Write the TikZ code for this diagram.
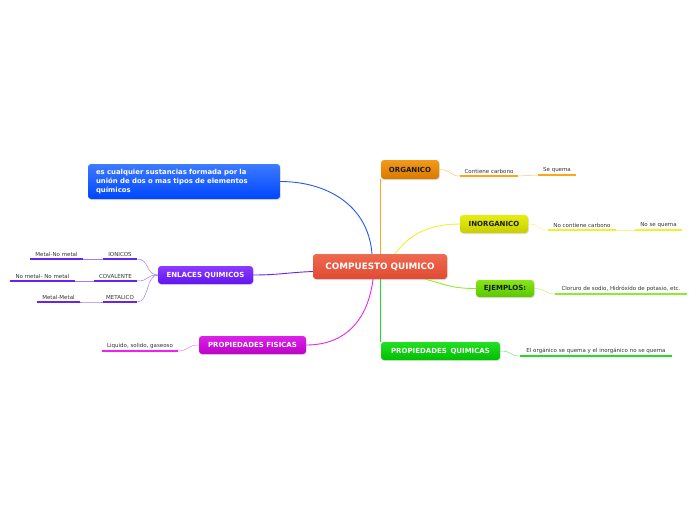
\documentclass[tikz,border=0pt]{standalone}
\usepackage{fontspec}
\setmainfont{DejaVu Sans}
\usepackage{tikz}
\usetikzlibrary{calc,shadows}
\definecolor{cqT}{HTML}{EE6A50}
\definecolor{cqB}{HTML}{E04A32}
\definecolor{orgT}{HTML}{F29A1A}
\definecolor{orgB}{HTML}{D97A00}
\definecolor{inoT}{HTML}{E6EE10}
\definecolor{inoB}{HTML}{C8CE00}
\definecolor{ejT}{HTML}{86E616}
\definecolor{ejB}{HTML}{5CC800}
\definecolor{pqT}{HTML}{22E022}
\definecolor{pqB}{HTML}{00BE00}
\definecolor{dsT}{HTML}{3D7BFF}
\definecolor{dsB}{HTML}{0046FF}
\definecolor{enT}{HTML}{8A3CFF}
\definecolor{enB}{HTML}{6214F0}
\definecolor{pfT}{HTML}{DD22E8}
\definecolor{pfB}{HTML}{BB00C8}
\definecolor{lnB}{HTML}{2456FF}
\definecolor{lnO}{HTML}{FFA41C}
\definecolor{lnY}{HTML}{EEF030}
\definecolor{lnYG}{HTML}{8CEE2A}
\definecolor{lnG}{HTML}{22DD22}
\definecolor{lnP}{HTML}{6624F0}
\definecolor{lnM}{HTML}{EE22EE}
\definecolor{txt}{HTML}{333333}
\definecolor{dark}{HTML}{1A1A1A}
\tikzset{
  topic/.style={rounded corners=3pt, draw=none, inner sep=0pt,
    font=\bfseries\fontsize{7}{8}\selectfont,
    drop shadow={opacity=0.25, shadow xshift=0.8pt, shadow yshift=-1pt}},
  leaf/.style={anchor=south, inner xsep=0pt, inner ysep=2.2pt, text=txt,
    font=\fontsize{5.5}{6.5}\selectfont},
  ul/.style={line width=2.4pt},
  link/.style={line width=0.9pt},
  twig/.style={line width=0.5pt, draw opacity=0.6}
}
\begin{document}
\begin{tikzpicture}[x=1pt,y=-1pt]
  \useasboundingbox (0,0) rectangle (696,520);

  % main topics
  \node[topic, top color=cqT, bottom color=cqB, text=white, minimum width=134pt,
    minimum height=25pt, font=\bfseries\fontsize{8.8}{10}\selectfont] (cq) at (380,266.5) {COMPUESTO QUIMICO};
  \node[topic, top color=orgT, bottom color=orgB, text=dark, minimum width=58pt,
    minimum height=19pt] (org) at (410,169.5) {ORGANICO};
  \node[topic, top color=inoT, bottom color=inoB, text=dark, minimum width=68pt,
    minimum height=18pt] (inorg) at (494,224) {INORGANICO};
  \node[topic, top color=ejT, bottom color=ejB, text=dark, minimum width=58pt,
    minimum height=17pt] (ej) at (505,288.5) {EJEMPLOS:};
  \node[topic, top color=pqT, bottom color=pqB, text=white, minimum width=119pt,
    minimum height=18pt] (pq) at (440.5,351) {PROPIEDADES\, QUIMICAS};
  \node[topic, top color=dsT, bottom color=dsB, text=white, text width=176pt,
    inner xsep=8pt, minimum height=35pt, align=left,
    font=\bfseries\fontsize{6.9}{9}\selectfont] (desc) at (184,181.5)
    {es cualquier sustancias formada por la\\uni\'on de dos o mas tipos de elementos\\qu\'imicos};
  \node[topic, top color=enT, bottom color=enB, text=white, minimum width=95pt,
    minimum height=18pt] (enl) at (205.5,275) {ENLACES QUIMICOS};
  \node[topic, top color=pfT, bottom color=pfB, text=white, minimum width=107pt,
    minimum height=18pt] (pf) at (252.5,345) {PROPIEDADES FISICAS};

  % leaves
  \node[leaf, minimum width=58pt] (contiene) at (489,176) {Contiene carbono};
  \node[leaf, minimum width=38pt] (sequema) at (557,175) {Se quema};
  \node[leaf, minimum width=68pt] (nocont) at (582,230) {No contiene carbono};
  \node[leaf, minimum width=47pt] (nosequema) at (658.5,230) {No se quema};
  \node[leaf, minimum width=132pt] (cloruro) at (621,294) {Cloruro de sodio, Hidr\'oxido de potasio, etc.};
  \node[leaf, minimum width=152pt] (orginorg) at (596,356) {El org\'anico se quema y el inorg\'anico no se quema};
  \node[leaf, minimum width=34pt] (ionicos) at (120,259) {IONICOS};
  \node[leaf, minimum width=53pt] (metalno) at (56.5,259) {Metal-No metal};
  \node[leaf, minimum width=43pt] (covalente) at (115.5,281) {COVALENTE};
  \node[leaf, minimum width=65pt] (nometal) at (42.5,281) {No metal- No metal};
  \node[leaf, minimum width=34pt] (metalico) at (120,302) {METALICO};
  \node[leaf, minimum width=43pt] (metalmetal) at (58.5,302) {Metal-Metal};
  \node[leaf, minimum width=76pt] (liquido) at (140,351) {Liquido, solido, gaseoso};

  % underlines
  \draw[ul, lnO] (contiene.south west) -- (contiene.south east);
  \draw[ul, lnO] (sequema.south west) -- (sequema.south east);
  \draw[ul, lnY] (nocont.south west) -- (nocont.south east);
  \draw[ul, lnY] (nosequema.south west) -- (nosequema.south east);
  \draw[ul, lnYG] (cloruro.south west) -- (cloruro.south east);
  \draw[ul, lnG] (orginorg.south west) -- (orginorg.south east);
  \draw[ul, lnP] (ionicos.south west) -- (ionicos.south east);
  \draw[ul, lnP] (metalno.south west) -- (metalno.south east);
  \draw[ul, lnP] (covalente.south west) -- (covalente.south east);
  \draw[ul, lnP] (nometal.south west) -- (nometal.south east);
  \draw[ul, lnP] (metalico.south west) -- (metalico.south east);
  \draw[ul, lnP] (metalmetal.south west) -- (metalmetal.south east);
  \draw[ul, lnM] (liquido.south west) -- (liquido.south east);

  % links from the centre
  \draw[link, lnB] ([xshift=-8pt]cq.north) .. controls +(-4,-50) and +(45,0) .. (desc.east);
  \draw[link, lnO] (cq.north) -- (cq.north |- org.south);
  \draw[link, lnY] ([xshift=15pt]cq.north) .. controls +(15,-20) and +(-30,0) .. (inorg.west);
  \draw[link, lnYG] ([xshift=-22pt]cq.south east) .. controls +(20,5) and +(-25,0) .. (ej.west);
  \draw[link, lnG] (cq.south) -- (cq.south |- pq.north);
  \draw[link, lnP] ([yshift=-5pt]cq.west) .. controls +(-25,1) and +(25,0) .. (enl.east);
  \draw[link, lnM] ([xshift=-7pt]cq.south) .. controls +(-5,40) and +(40,0) .. (pf.east);

  % links to leaves
  \draw[twig, lnO] (org.east) .. controls +(12,0) and +(-10,0) .. (contiene.south west);
  \draw[twig, lnO] (contiene.south east) .. controls +(10,0) and +(-10,0) .. (sequema.south west);
  \draw[twig, lnY] (inorg.east) .. controls +(12,0) and +(-10,0) .. (nocont.south west);
  \draw[twig, lnY] (nocont.south east) .. controls +(10,0) and +(-10,0) .. (nosequema.south west);
  \draw[twig, lnYG] (ej.east) .. controls +(12,0) and +(-10,0) .. (cloruro.south west);
  \draw[twig, lnG] (pq.east) .. controls +(12,0) and +(-10,0) .. (orginorg.south west);
  \draw[twig, lnP] (enl.west) .. controls +(-12,0) and +(12,0) .. (ionicos.south east);
  \draw[twig, lnP] (enl.west) .. controls +(-12,0) and +(12,0) .. (covalente.south east);
  \draw[twig, lnP] (enl.west) .. controls +(-12,0) and +(12,0) .. (metalico.south east);
  \draw[twig, lnP] (ionicos.south west) .. controls +(-10,0) and +(10,0) .. (metalno.south east);
  \draw[twig, lnP] (covalente.south west) .. controls +(-10,0) and +(10,0) .. (nometal.south east);
  \draw[twig, lnP] (metalico.south west) .. controls +(-10,0) and +(10,0) .. (metalmetal.south east);
  \draw[twig, lnM] (pf.west) .. controls +(-12,0) and +(10,0) .. (liquido.south east);
\end{tikzpicture}
\end{document}
